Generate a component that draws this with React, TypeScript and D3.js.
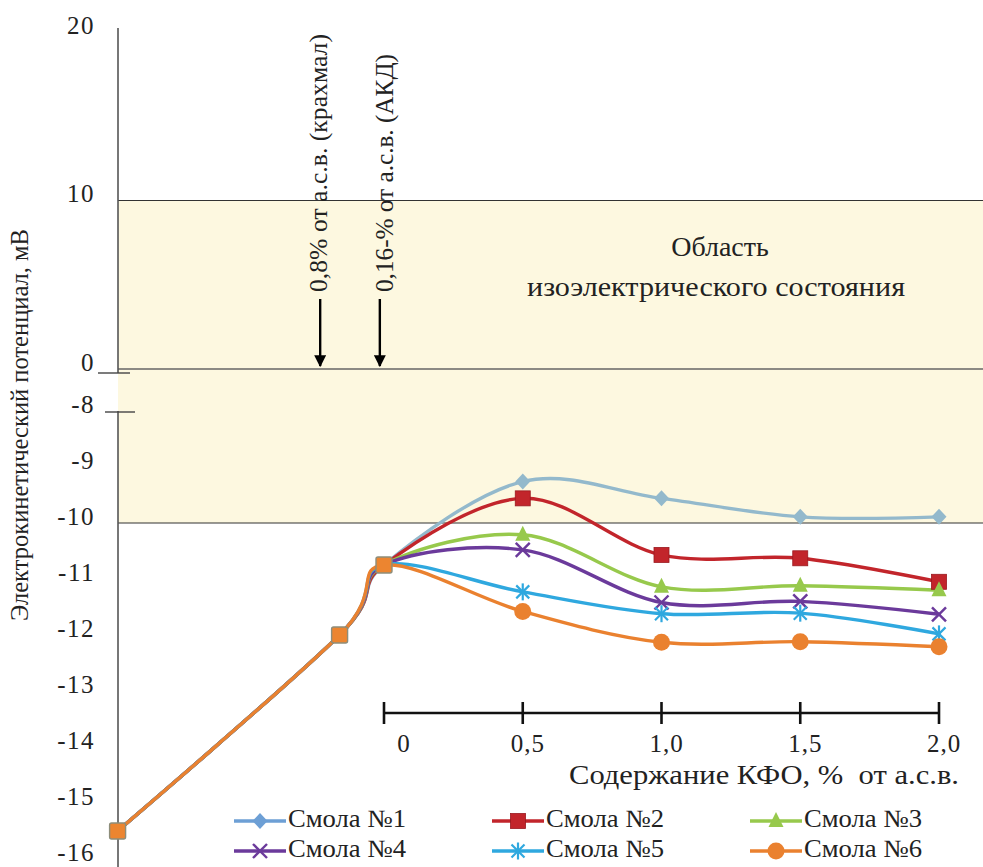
import React from 'react';
import * as d3 from 'd3';

// ---------- data ----------
const seriesNames = ['Смола №1', 'Смола №2', 'Смола №3', 'Смола №4', 'Смола №5', 'Смола №6'];
const seriesColors = ['#93b9cc', '#c2252b', '#97c94c', '#6b3a9b', '#2fa8df', '#ea812f'];
const legendColors = ['#6d9fd5', '#c2252b', '#97c94c', '#6b3a9b', '#2fa8df', '#ea812f'];
const markerTypes = ['diamond', 'square', 'triangle', 'cross', 'star', 'circle'];

// shared starting part of every curve (starch, AKD additions), position on the KFO scale
const startX = [-0.96, -0.16, 0];
const startValues = [-15.5, -12.0, -10.75];

// KFO content, % of dry fibre
const kfoLevels = [0.5, 1.0, 1.5, 2.0];
const resin1 = [-9.26, -9.56, -9.89, -9.89];
const resin2 = [-9.56, -10.57, -10.63, -11.05];
const resin3 = [-10.21, -11.14, -11.12, -11.2];
const resin4 = [-10.48, -11.42, -11.4, -11.63];
const resin5 = [-11.23, -11.62, -11.61, -11.98];
const resin6 = [-11.58, -12.13, -12.12, -12.21];
const seriesValues = [resin1, resin2, resin3, resin4, resin5, resin6];

const upperTicks = [20, 10, 0];
const lowerTicks = [-8, -9, -10, -11, -12, -13, -14, -15, -16];
const xTicks = [0, 0.5, 1.0, 1.5, 2.0];
const xTickLabels = ['0', '0,5', '1,0', '1,5', '2,0'];
const isoBand = [10, -10];

const W = 983;
const H = 867;
const txt = { fontFamily: '"Liberation Serif", "Times New Roman", serif' };

function Marker({ type, cx, cy, color }: { type: string; cx: number; cy: number; color: string }) {
  switch (type) {
    case 'diamond':
      return <path d={`M${cx},${cy - 8}L${cx + 7.5},${cy}L${cx},${cy + 8}L${cx - 7.5},${cy}Z`} fill={color} />;
    case 'square':
      return <rect x={cx - 7.5} y={cy - 7.5} width={15} height={15} fill={color} stroke="#9a1a20" strokeWidth={0.8} />;
    case 'triangle':
      return <path d={`M${cx},${cy - 9}L${cx + 7.5},${cy + 6}L${cx - 7.5},${cy + 6}Z`} fill={color} />;
    case 'cross':
      return (
        <g stroke={color} strokeWidth={2.4}>
          <line x1={cx - 7} y1={cy - 7} x2={cx + 7} y2={cy + 7} />
          <line x1={cx - 7} y1={cy + 7} x2={cx + 7} y2={cy - 7} />
        </g>
      );
    case 'star':
      return (
        <g stroke={color} strokeWidth={2.2}>
          <line x1={cx - 6.5} y1={cy - 6.5} x2={cx + 6.5} y2={cy + 6.5} />
          <line x1={cx - 6.5} y1={cy + 6.5} x2={cx + 6.5} y2={cy - 6.5} />
          <line x1={cx} y1={cy - 8.5} x2={cx} y2={cy + 8.5} />
        </g>
      );
    default:
      return <circle cx={cx} cy={cy} r={8.5} fill={color} />;
  }
}

export default function App() {
  const x = d3.scaleLinear().domain([0, 2]).range([384, 939]);
  const yUpper = d3.scaleLinear().domain([0, 20]).range([369, 32]);
  const yLower = d3.scaleLinear().domain([-16, -8]).range([859, 411]);
  const y = (v: number) => (v >= 0 ? yUpper(v) : yLower(v));

  const axisX = 118;
  const line = d3
    .line<[number, number]>()
    .x((d) => x(d[0]))
    .y((d) => y(d[1]))
    .curve(d3.curveCardinal.tension(0));

  const series = seriesValues.map((vals) => {
    const pts: [number, number][] = startX.map((sx, i) => [sx, startValues[i]] as [number, number]);
    kfoLevels.forEach((k, i) => pts.push([k, vals[i]]));
    return pts;
  });

  const bandTop = yUpper(isoBand[0]);
  const bandBottom = yLower(isoBand[1]);
  const zeroY = yUpper(0);
  const xAxisY = 713;

  const legendCols = [234, 492, 750];
  const legendRows = [821, 851];

  return (
    <svg width={W} height={H} style={{ position: 'absolute', left: 0, top: 0, background: '#fff' }}>
      <rect x={0} y={0} width={W} height={H} fill="#fff" />
      {/* isoelectric band */}
      <rect x={axisX} y={bandTop} width={W - axisX} height={bandBottom - bandTop} fill="#fdf8e0" />
      <line x1={axisX} x2={W} y1={bandTop} y2={bandTop} stroke="#333" strokeWidth={1.2} />
      <line x1={axisX} x2={W} y1={zeroY} y2={zeroY} stroke="#666" strokeWidth={1.4} />
      <line x1={axisX} x2={W} y1={bandBottom} y2={bandBottom} stroke="#333" strokeWidth={1.2} />

      {/* y axis (broken) */}
      <line x1={axisX} x2={axisX} y1={28} y2={zeroY + 4} stroke="#555" strokeWidth={1.6} />
      <line x1={axisX} x2={axisX} y1={yLower(-8)} y2={H} stroke="#555" strokeWidth={1.6} />
      <line x1={98} x2={130} y1={zeroY + 4} y2={zeroY + 4} stroke="#444" strokeWidth={1.4} />
      <line x1={105} x2={135} y1={yLower(-8) + 1} y2={yLower(-8) + 1} stroke="#444" strokeWidth={1.4} />

      {upperTicks.map((t) => (
        <text key={'u' + t} style={txt} x={95} y={yUpper(t) - 4} textAnchor="end" dominantBaseline="middle" fontSize={25} letterSpacing={1.5} fill="#222">
          {String(t)}
        </text>
      ))}
      {lowerTicks.map((t) => (
        <text key={'l' + t} style={txt} x={95} y={yLower(t) - 4} textAnchor="end" dominantBaseline="middle" fontSize={25} letterSpacing={1.5} fill="#222">
          {String(t)}
        </text>
      ))}

      <text
        style={txt}
        transform={`translate(22,${425}) rotate(-90)`}
        textAnchor="middle"
        dominantBaseline="middle"
        fontSize={26}
        textLength={392}
        lengthAdjust="spacingAndGlyphs"
        fill="#222"
      >
        Электрокинетический потенциал, мВ
      </text>

      {/* annotations */}
      <text style={txt} transform={`translate(321,292) rotate(-90)`} dominantBaseline="middle" fontSize={26} textLength={258} lengthAdjust="spacingAndGlyphs" fill="#222">
        0,8% от а.с.в. (крахмал)
      </text>
      <text style={txt} transform={`translate(387,292) rotate(-90)`} dominantBaseline="middle" fontSize={26} textLength={238} lengthAdjust="spacingAndGlyphs" fill="#222">
        0,16-% от а.с.в. (АКД)
      </text>
      <defs>
        <marker id="arr" viewBox="0 0 10 10" refX={9} refY={5} markerWidth={5} markerHeight={5} orient="auto">
          <path d="M0,0L10,5L0,10Z" fill="#000" />
        </marker>
      </defs>
      {[x(-0.23), x(-0.015)].map((ax, i) => (
        <line key={'arr' + i} x1={ax} x2={ax} y1={299} y2={zeroY - 3} stroke="#000" strokeWidth={2.4} markerEnd="url(#arr)" />
      ))}

      <text style={txt} x={720} y={250} textAnchor="middle" dominantBaseline="middle" fontSize={28} fill="#222">
        Область
      </text>
      <text style={txt} x={716} y={290} textAnchor="middle" dominantBaseline="middle" fontSize={28} textLength={378} lengthAdjust="spacingAndGlyphs" fill="#222">
        изоэлектрического состояния
      </text>

      {/* lower x axis */}
      <line x1={x(0)} x2={x(2)} y1={xAxisY} y2={xAxisY} stroke="#111" strokeWidth={2.6} />
      {xTicks.map((t, i) => (
        <g key={'xt' + t}>
          <line x1={x(t)} x2={x(t)} y1={xAxisY - 11} y2={xAxisY + 11} stroke="#111" strokeWidth={2.6} />
          <text style={txt} x={x(t) + (t === 0 ? 20 : 5)} y={746} textAnchor="middle" dominantBaseline="middle" fontSize={25} letterSpacing={1} fill="#222">
            {xTickLabels[i]}
          </text>
        </g>
      ))}
      <text style={{ ...txt, whiteSpace: 'pre' }} x={764} y={778} textAnchor="middle" dominantBaseline="middle" fontSize={27} textLength={390} lengthAdjust="spacingAndGlyphs" fill="#222">
        {'Содержание КФО, %  от а.с.в.'}
      </text>

      {/* curves */}
      {series.map((pts, i) => (
        <path key={'ln' + i} d={line(pts) || ''} fill="none" stroke={seriesColors[i]} strokeWidth={3.4} strokeLinecap="round" />
      ))}
      {series.map((pts, i) => (
        <g key={'mk' + i}>
          {pts.slice(startX.length).map((p, j) => (
            <Marker key={j} type={markerTypes[i]} cx={x(p[0])} cy={y(p[1])} color={seriesColors[i]} />
          ))}
        </g>
      ))}
      {startX.map((sx, j) => (
        <rect key={'st' + j} x={x(sx) - 8} y={y(startValues[j]) - 8} width={16} height={16} rx={2} fill="#ec8530" stroke="#8d8d7a" strokeWidth={1.4} />
      ))}

      {/* legend */}
      {seriesNames.map((name, i) => {
        const col = i % 3;
        const row = Math.floor(i / 3);
        const lx = legendCols[col];
        const ly = legendRows[row];
        return (
          <g key={'lg' + i}>
            <line x1={lx} x2={lx + 52} y1={ly} y2={ly} stroke={legendColors[i]} strokeWidth={3.4} />
            <Marker type={markerTypes[i]} cx={lx + 26} cy={ly} color={legendColors[i]} />
            <text style={txt} x={lx + 54} y={ly} dominantBaseline="middle" fontSize={25} textLength={118} lengthAdjust="spacingAndGlyphs" fill="#222">
              {name}
            </text>
          </g>
        );
      })}
    </svg>
  );
}
